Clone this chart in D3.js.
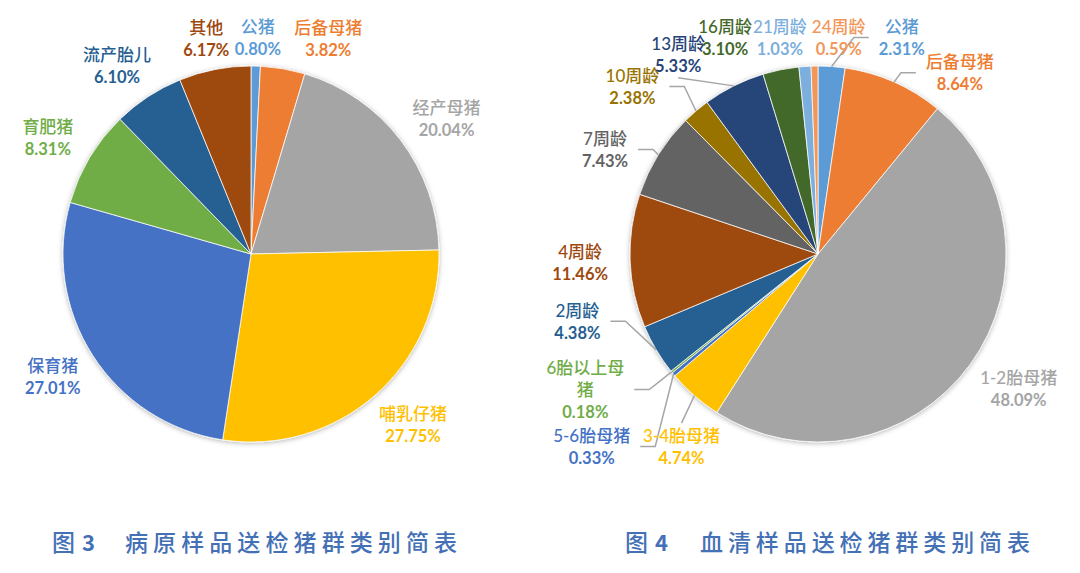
<!DOCTYPE html>
<html>
<head>
<meta charset="utf-8">
<title>送检猪群类别简表</title>
<style>
  body { margin: 0; background: #fff; }
  svg { display: block; }
</style>
</head>
<body>
<svg id="chart" width="1080" height="573"></svg>
<script src="https://d3js.org/d3.v7.min.js"></script>
<script>
// 图3 病原样品
const leftNames  = ["公猪", "后备母猪", "经产母猪", "哺乳仔猪", "保育猪", "育肥猪", "流产胎儿", "其他"];
const leftValues = [0.80, 3.82, 20.04, 27.75, 27.01, 8.31, 6.10, 6.17];
const leftColors = ["#5B9BD5", "#ED7D31", "#A5A5A5", "#FFC000", "#4472C4", "#70AD47", "#255E91", "#9E480E"];

// 图4 血清样品
const rightNames  = ["公猪", "后备母猪", "1-2胎母猪", "3-4胎母猪", "5-6胎母猪", "6胎以上母猪", "2周龄",
                     "4周龄", "7周龄", "10周龄", "13周龄", "16周龄", "21周龄", "24周龄"];
const rightValues = [2.31, 8.64, 48.09, 4.74, 0.33, 0.18, 4.38, 11.46, 7.43, 2.38, 5.33, 3.10, 1.03, 0.59];
const rightColors = ["#5B9BD5", "#ED7D31", "#A5A5A5", "#FFC000", "#4472C4", "#70AD47", "#255E91",
                     "#9E480E", "#636363", "#997300", "#264478", "#43682B", "#7CAFDD", "#F1975A"];

const captions = [
  { fig: "图", num: "3", text: "病原样品送检猪群类别简表" },
  { fig: "图", num: "4", text: "血清样品送检猪群类别简表" }
];

// label nudges from the centroid on the label ring, plus leader side
const leftNudge = [[1, 16], [38, 13], [11, 5], [9, -4], [-3, -3], [-4, 3], [-7, 6], [0, 12]];
const leftLeader = ["", "", "", "", "", "", "", ""];
const rightNudge = [[67, 15], [48, 31], [13, -2], [16, 18], [-48, 44], [-52, -10], [-41, -51],
                    [-6, 0], [-16, 18], [-35, 9], [-36, 8], [-47, 11], [-22, 15], [25, 16]];
const rightLeader = ["left", "left", "", "top", "right", "right", "right", "", "right", "right", "bottom", "", "", ""];
const rightWrap = { "6胎以上母猪": ["6胎以上母", "猪"] };

const svg = d3.select("#chart");
const R = 188, LABEL_R = 232, LINE_H = 22.5;
const fontFam = "Lato, 'Noto Sans CJK SC', sans-serif";

const defs = svg.append("defs");
defs.append("filter")
    .attr("id", "shadow")
    .attr("x", "-10%").attr("y", "-10%")
    .attr("width", "120%").attr("height", "120%")
  .append("feDropShadow")
    .attr("dx", 0).attr("dy", 1)
    .attr("stdDeviation", 2.5)
    .attr("flood-color", "#000")
    .attr("flood-opacity", 0.3);

function drawPie(cx, cy, names, values, colors, nudge, leader, wrap) {
    const pie = d3.pie().sort(null).value(d => d)(values);
    const arc = d3.arc().innerRadius(0).outerRadius(R);
    const ring = d3.arc().innerRadius(LABEL_R).outerRadius(LABEL_R);
    const edge = d3.arc().innerRadius(R).outerRadius(R);

    const g = svg.append("g").attr("transform", `translate(${cx},${cy})`);

    g.append("g")
        .attr("filter", "url(#shadow)")
      .selectAll("path")
      .data(pie)
      .join("path")
        .attr("d", arc)
        .attr("fill", (d, i) => colors[i])
        .attr("stroke", "#fff")
        .attr("stroke-width", 0.75);

    const lines = g.append("g");
    const labels = g.append("g").attr("font-family", fontFam);

    pie.forEach((d, i) => {
        const c = ring.centroid(d);
        const x = c[0] + nudge[i][0];
        const y = c[1] + nudge[i][1];
        const nameLines = (wrap && wrap[names[i]]) || [names[i]];
        const all = nameLines.concat([values[i].toFixed(2) + "%"]);
        const n = all.length;

        const lg = labels.append("g").attr("fill", colors[i]);
        all.forEach((s, k) => {
            const pct = k === n - 1;
            lg.append("text")
                .attr("x", x)
                .attr("y", y + (k - (n - 1) / 2) * LINE_H)
                .attr("text-anchor", "middle")
                .attr("dominant-baseline", "central")
                .attr("font-size", pct ? 16.5 : 17)
                .attr("font-weight", pct ? "bold" : 500)
                .text(s);
        });

        if (!leader[i]) return;
        const bb = lg.node().getBBox();
        const e = edge.centroid(d);
        let pts;
        if (leader[i] === "right") {
            const sx = bb.x + bb.width + 10;
            pts = [[sx, y], [sx + 15, y], e];
        } else if (leader[i] === "left") {
            const sx = bb.x - 10;
            pts = [[sx, y], [sx - 15, y], e];
        } else if (leader[i] === "top") {
            pts = [[x, bb.y - 2], e];
        } else {
            pts = [[x, bb.y + bb.height + 2], e];
        }
        lines.append("path")
            .attr("d", d3.line()(pts))
            .attr("fill", "none")
            .attr("stroke", "#A6A6A6")
            .attr("stroke-width", 1.5);
    });
}

drawPie(251, 254, leftNames, leftValues, leftColors, leftNudge, leftLeader, null);
drawPie(818, 254, rightNames, rightValues, rightColors, rightNudge, rightLeader, rightWrap);

// captions
const capX = [[52, 82, 125, 457], [625, 655, 700, 1030]];
captions.forEach((c, i) => {
    const [fx, nx, tx, ex] = capX[i];
    const g = svg.append("g")
        .attr("fill", "#4470B5")
        .attr("font-family", "'Noto Sans CJK SC', sans-serif")
        .attr("font-weight", 500)
        .attr("dominant-baseline", "central");
    g.append("text").attr("x", fx).attr("y", 541)
        .attr("font-size", 23).text(c.fig);
    g.append("text").attr("x", nx).attr("y", 541)
        .attr("font-size", 22).attr("font-weight", "bold").text(c.num);
    g.append("text").attr("x", tx).attr("y", 541)
        .attr("font-size", 23)
        .attr("textLength", ex - tx)
        .attr("lengthAdjust", "spacing")
        .text(c.text);
});
</script>
</body>
</html>
